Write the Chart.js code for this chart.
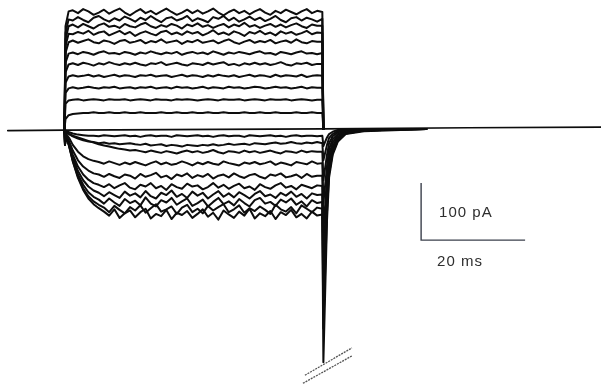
<!DOCTYPE html>
<html>
<head>
<meta charset="utf-8">
<title>Whole-cell current family</title>
<script src="https://cdn.jsdelivr.net/npm/chart.js@4/dist/chart.umd.min.js"></script>
<style>
  html, body { margin: 0; padding: 0; background: #ffffff; }
  #wrap { width: 601px; height: 385px; }
</style>
</head>
<body>
<div id="wrap"><canvas id="traces" width="601" height="385"></canvas></div>
<script>
// Time axis in ms, current in pA.
const timeRange = [0, 115.6];
const currentRange = [-449, 226];

// Holding current before and after the voltage steps
const baselineTimes = [1.5, 12.4, 62.2, 90, 115.6];
const baselineCurrent = [-3, -2, 0, 2, 3];

// Sample times for the outward sweeps: onset, 1 ms plateau samples, offset
const outwardTimes = [12.4, 12.6, 13.2,
  14, 15, 16, 17, 18, 19, 20, 21, 22, 23, 24, 25,
  26, 27, 28, 29, 30, 31, 32, 33, 34, 35, 36, 37,
  38, 39, 40, 41, 42, 43, 44, 45, 46, 47, 48, 49,
  50, 51, 52, 53, 54, 55, 56, 57, 58, 59, 60, 61,
  62.0, 62.2];

// Outward currents, one row per sweep (pA)
const outwardSweeps = [
  [0, 180, 206,
   208, 203, 210, 206, 200, 204, 209, 202, 207, 211, 204, 199,
   205, 210, 203, 207, 201, 206, 211, 205, 200, 204, 209, 203,
   208, 202, 206, 211, 204, 199, 205, 209, 203, 207, 201, 206,
   210, 204, 200, 207, 203, 209, 205, 201, 206, 210, 203, 207,
   205, 0],
  [0, 168, 192,
   190, 196, 191, 187, 195, 198, 192, 188, 194, 190, 197, 193,
   188, 195, 191, 198, 192, 187, 194, 196, 190, 193, 198, 189,
   194, 191, 187, 196, 193, 198, 190, 195, 188, 192, 197, 191,
   195, 189, 193, 198, 191, 187, 194, 196, 190, 195, 192, 188,
   193, 0],
  [0, 157, 180,
   183, 178, 184, 180, 176, 182, 185, 179, 181, 177, 184, 180,
   178, 183, 186, 180, 177, 182, 179, 184, 181, 176, 183, 180,
   185, 179, 182, 177, 181, 184, 178, 183, 180, 186, 179, 182,
   177, 181, 184, 179, 183, 178, 182, 185, 180, 177, 183, 181,
   181, 0],
  [0, 146, 167,
   166, 170, 167, 172, 165, 169, 171, 164, 168, 172, 166, 170,
   163, 168, 171, 167, 164, 170, 172, 166, 169, 165, 171, 167,
   170, 164, 168, 173, 166, 169, 165, 171, 168, 163, 170, 167,
   172, 166, 169, 164, 171, 167, 170, 165, 168, 172, 166, 169,
   168, 0],
  [0, 133, 152,
   155, 151, 154, 157, 152, 150, 155, 153, 149, 154, 156, 151,
   153, 156, 150, 154, 152, 157, 151, 153, 155, 149, 154, 152,
   156, 151, 153, 155, 150, 154, 157, 152, 149, 153, 156, 151,
   154, 152, 156, 150, 153, 155, 151, 157, 152, 150, 154, 153,
   153, 0],
  [0, 116, 132,
   134, 131, 135, 133, 130, 134, 136, 132, 133, 131, 135, 133,
   130, 134, 132, 136, 133, 131, 134, 132, 135, 130, 133, 135,
   132, 134, 131, 136, 133, 130, 134, 132, 135, 133, 131, 134,
   136, 132, 133, 130, 135, 133, 131, 134, 136, 132, 133, 131,
   133, 0],
  [0, 99, 113,
   115, 112, 116, 114, 111, 115, 113, 117, 114, 112, 115, 113,
   116, 113, 111, 115, 114, 117, 112, 114, 116, 113, 111, 115,
   114, 112, 116, 113, 115, 117, 112, 114, 111, 115, 113, 116,
   113, 115, 112, 114, 117, 113, 111, 115, 114, 116, 112, 114,
   114, 0],
  [0, 81, 92,
   94, 92, 93, 95, 92, 94, 91, 93, 95, 92, 94, 93,
   91, 94, 93, 95, 92, 93, 94, 91, 93, 95, 92, 94,
   93, 91, 94, 92, 95, 93, 92, 94, 91, 93, 95, 92,
   94, 93, 91, 95, 92, 94, 93, 92, 95, 91, 93, 94,
   93, 0],
  [0, 63, 71,
   73, 71, 72, 74, 72, 71, 73, 72, 74, 71, 72, 73,
   71, 73, 72, 74, 71, 72, 73, 71, 74, 72, 73, 71,
   72, 74, 71, 73, 72, 71, 74, 72, 73, 71, 72, 74,
   73, 71, 72, 74, 72, 73, 71, 72, 74, 71, 73, 72,
   72, 0],
  [0, 44, 50,
   51, 52, 50, 51, 52, 51, 50, 52, 51, 51, 52, 50,
   51, 52, 51, 50, 52, 51, 51, 50, 52, 51, 52, 51,
   50, 51, 52, 51, 50, 52, 51, 51, 52, 50, 51, 52,
   51, 50, 52, 51, 51, 52, 50, 51, 52, 51, 50, 51,
   51, 0],
  [0, 17, 24,
   26, 27, 28, 28, 29, 28, 28, 29, 28, 28, 29, 28,
   28, 29, 28, 28, 28, 29, 28, 28, 29, 28, 28, 29,
   28, 28, 29, 28, 28, 29, 28, 28, 28, 29, 28, 28,
   29, 28, 28, 29, 28, 28, 28, 29, 28, 28, 29, 28,
   28, 0]
];

// Sample times for the inward sweeps, including the tail after repolarisation
const inwardTimes = [12.4, 12.5, 12.7, 13.3,
  14, 15, 16, 17, 18, 19, 20, 21, 22, 23, 24, 25,
  26, 27, 28, 29, 30, 31, 32, 33, 34, 35, 36, 37,
  38, 39, 40, 41, 42, 43, 44, 45, 46, 47, 48, 49,
  50, 51, 52, 53, 54, 55, 56, 57, 58, 59, 60, 61,
  62.0, 62.2, 62.9, 63.3, 64, 65, 66.5, 70, 77, 82];

// Inward currents, one row per sweep (pA)
const inwardSweeps = [
  [0, -6, -3, -6,
   -8, -10, -11, -12, -12, -13, -11, -12, -13, -12, -11, -13,
   -12, -14, -12, -11, -13, -12, -12, -14, -11, -12, -13, -12,
   -11, -13, -12, -14, -12, -11, -13, -12, -12, -14, -11, -12,
   -13, -12, -11, -13, -12, -14, -12, -11, -13, -12, -12, -13,
   -12, -30, -15, -9, -5, -2, -1, 0, 0, 0],
  [0, -10, -5, -9,
   -13, -17, -20, -22, -23, -25, -24, -26, -25, -27, -26, -25,
   -27, -28, -26, -29, -28, -27, -30, -28, -29, -31, -28, -29,
   -30, -28, -29, -27, -29, -28, -26, -28, -27, -26, -28, -25,
   -26, -27, -25, -24, -26, -25, -23, -25, -26, -24, -25, -23,
   -25, -55, -28, -16, -9, -4, -2, 0, 0, 0],
  [0, -14, -6, -9,
   -12, -15, -18, -21, -24, -27, -29, -31, -33, -35, -36, -38,
   -37, -39, -41, -38, -40, -42, -39, -41, -43, -40, -38, -41,
   -39, -42, -40, -37, -41, -43, -39, -40, -42, -38, -41, -39,
   -42, -40, -38, -41, -43, -39, -40, -42, -38, -41, -39, -40,
   -40, -90, -45, -25, -13, -6, -3, -1, 0, 0],
  [0, -20, -8, -16,
   -28, -40, -48, -53, -56, -58, -61, -57, -60, -63, -59, -62,
   -58, -61, -64, -60, -57, -62, -59, -63, -61, -57, -60, -64,
   -59, -62, -58, -61, -63, -57, -60, -62, -64, -59, -61, -58,
   -62, -60, -57, -63, -59, -61, -64, -58, -60, -62, -57, -61,
   -60, -130, -65, -35, -18, -9, -4, -1, 0, 0],
  [0, -24, -10, -22,
   -38, -55, -66, -73, -78, -80, -84, -79, -83, -86, -80, -82,
   -87, -79, -84, -81, -77, -85, -82, -88, -80, -83, -78, -86,
   -81, -84, -79, -87, -82, -80, -85, -78, -83, -86, -81, -79,
   -84, -87, -80, -82, -78, -85, -83, -80, -86, -79, -84, -82,
   -82, -180, -85, -45, -24, -11, -5, -2, 0, 0],
  [0, -26, -11, -25,
   -45, -66, -80, -89, -95, -98, -102, -97, -104, -99, -95, -103,
   -106, -98, -101, -95, -104, -100, -107, -97, -102, -105, -96, -101,
   -99, -106, -102, -95, -103, -98, -105, -100, -96, -104, -101, -107,
   -97, -102, -105, -99, -95, -103, -100, -106, -98, -101, -104, -99,
   -100, -230, -100, -55, -30, -14, -6, -2, -1, 0],
  [0, -28, -12, -27,
   -50, -74, -90, -101, -108, -112, -118, -111, -116, -121, -110, -117,
   -113, -120, -109, -118, -122, -112, -116, -108, -119, -114, -121, -110,
   -117, -112, -122, -115, -109, -119, -113, -120, -111, -116, -122, -114,
   -109, -118, -115, -121, -112, -117, -110, -119, -114, -122, -113, -116,
   -115, -260, -115, -62, -33, -15, -7, -3, -1, 0],
  [0, -28, -12, -29,
   -54, -80, -98, -111, -119, -124, -131, -122, -129, -135, -123, -130,
   -126, -134, -120, -131, -136, -125, -129, -121, -133, -127, -122, -135,
   -130, -124, -136, -128, -121, -132, -127, -134, -123, -130, -136, -125,
   -121, -131, -128, -135, -124, -129, -122, -133, -127, -136, -125, -130,
   -128, -300, -130, -70, -38, -18, -8, -3, -1, 0],
  [0, -28, -12, -30,
   -56, -84, -104, -118, -127, -133, -138, -146, -135, -142, -148, -137,
   -143, -134, -147, -139, -132, -145, -141, -136, -149, -138, -133, -146,
   -140, -148, -135, -143, -137, -132, -146, -141, -134, -147, -139, -144,
   -136, -142, -149, -133, -141, -145, -137, -148, -134, -140, -146, -138,
   -140, -350, -145, -78, -42, -20, -8, -3, -1, 0],
  [0, -28, -12, -31,
   -57, -86, -107, -122, -132, -139, -145, -152, -141, -156, -148, -143,
   -155, -146, -140, -157, -149, -153, -142, -158, -147, -151, -144, -156,
   -149, -141, -154, -147, -159, -143, -150, -156, -145, -152, -140, -157,
   -148, -153, -144, -158, -146, -151, -142, -155, -149, -157, -145, -152,
   -150, -409, -160, -85, -45, -22, -9, -4, -2, 0]
];

// Scale bar: 100 pA by 20 ms, anchored at its corner
const scaleBarCorner = { t: 81, i: -195 };
const scaleBarCurrent = 100;
const scaleBarTime = 20;
const scaleBarLabels = ['100 pA', '20 ms'];

// Axis-break marks across the truncated tail spike (two parallel strokes)
const breakMarkTimes = [58.65, 67.69, null, 58.27, 67.69];
const breakMarkCurrent = [-432, -384, null, -446, -398];

function pairs(xs, ys) {
  return xs.map((x, k) => ({ x: x, y: ys[k] }));
}

const traceStyle = {
  borderColor: '#0d0d0d',
  borderWidth: 2,
  pointRadius: 0,
  tension: 0,
  fill: false,
  borderJoinStyle: 'round',
  borderCapStyle: 'round'
};

const datasets = [];
datasets.push(Object.assign({ label: 'holding', data: pairs(baselineTimes, baselineCurrent) }, traceStyle, { borderWidth: 1.7 }));
outwardSweeps.forEach((row, k) => {
  datasets.push(Object.assign({ label: 'out ' + (k + 1), data: pairs(outwardTimes, row) }, traceStyle));
});
inwardSweeps.forEach((row, k) => {
  datasets.push(Object.assign({ label: 'in ' + (k + 1), data: pairs(inwardTimes, row) }, traceStyle));
});

const c = scaleBarCorner;
datasets.push({
  label: 'scale bar',
  data: [
    { x: c.t, y: c.i + scaleBarCurrent },
    { x: c.t, y: c.i },
    { x: c.t + scaleBarTime, y: c.i }
  ],
  borderColor: '#3b404c',
  borderWidth: 1.4,
  pointRadius: 0,
  tension: 0,
  fill: false
});
datasets.push({
  label: 'break',
  data: breakMarkTimes.map((t, k) => ({ x: t === null ? 63 : t, y: breakMarkCurrent[k] })),
  spanGaps: false,
  borderColor: '#555555',
  borderWidth: 1.3,
  borderDash: [2, 1],
  pointRadius: 0,
  tension: 0,
  fill: false
});

// Text for the scale bar, placed from the bar's own data coordinates
const scaleBarText = {
  id: 'scaleBarText',
  afterDatasetsDraw(chart) {
    const xs = chart.scales.x, ys = chart.scales.y;
    const ctx = chart.ctx;
    const x0 = xs.getPixelForValue(c.t);
    const yMid = ys.getPixelForValue(c.i + scaleBarCurrent / 2);
    const yBot = ys.getPixelForValue(c.i);
    ctx.save();
    ctx.fillStyle = '#2e2e2e';
    ctx.font = '15px "Liberation Sans", Arial, sans-serif';
    if ('letterSpacing' in ctx) ctx.letterSpacing = '1px';
    ctx.textBaseline = 'middle';
    ctx.textAlign = 'left';
    ctx.fillText(scaleBarLabels[0], x0 + 18, yMid + 1);
    ctx.fillText(scaleBarLabels[1], x0 + 16, yBot + 22);
    ctx.restore();
  }
};

new Chart(document.getElementById('traces'), {
  type: 'line',
  data: { datasets: datasets },
  options: {
    responsive: false,
    animation: false,
    devicePixelRatio: 1,
    layout: { padding: 0 },
    scales: {
      x: { type: 'linear', min: timeRange[0], max: timeRange[1], display: false },
      y: { type: 'linear', min: currentRange[0], max: currentRange[1], display: false }
    },
    plugins: {
      legend: { display: false },
      tooltip: { enabled: false }
    }
  },
  plugins: [scaleBarText]
});
</script>
</body>
</html>
